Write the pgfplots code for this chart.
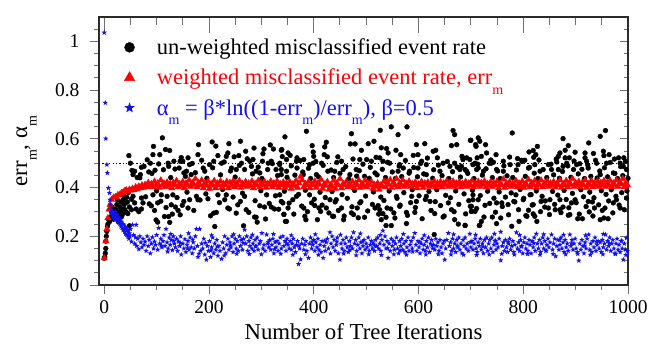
\documentclass[border=0pt]{standalone}
\usepackage{fontspec}
\setmainfont{Liberation Serif}
\usepackage{xcolor}
\usepackage{pgfplots}
\pgfplotsset{compat=1.18}
\usetikzlibrary{plotmarks}
\definecolor{spine}{HTML}{2B2B2B}
\definecolor{tickc}{HTML}{707070}
\definecolor{bl}{HTML}{1010F0}
\pgfdeclareplotmark{fstar}{%
  \pgfpathmoveto{\pgfpointpolar{90}{\pgfplotmarksize}}%
  \pgfpathlineto{\pgfpointpolar{126}{0.42\pgfplotmarksize}}%
  \pgfpathlineto{\pgfpointpolar{162}{\pgfplotmarksize}}%
  \pgfpathlineto{\pgfpointpolar{198}{0.42\pgfplotmarksize}}%
  \pgfpathlineto{\pgfpointpolar{234}{\pgfplotmarksize}}%
  \pgfpathlineto{\pgfpointpolar{270}{0.42\pgfplotmarksize}}%
  \pgfpathlineto{\pgfpointpolar{306}{\pgfplotmarksize}}%
  \pgfpathlineto{\pgfpointpolar{342}{0.42\pgfplotmarksize}}%
  \pgfpathlineto{\pgfpointpolar{18}{\pgfplotmarksize}}%
  \pgfpathlineto{\pgfpointpolar{54}{0.42\pgfplotmarksize}}%
  \pgfpathclose\pgfusepathqfill}
\newcommand{\sbm}{\raisebox{-0.42em}{\fontsize{14}{14}\selectfont m}}
\pgfplotsset{base/.style={
    scale only axis, width=529pt, height=268pt,
    at={(0pt,0pt)}, anchor=south west,
    xmin=-10, xmax=1000, ymin=0, ymax=1.1,
    xtick={0,200,400,600,800,1000},
    minor xtick={50,100,150,250,300,350,450,500,550,650,700,750,850,900,950},
    ytick={0,0.2,0.4,0.6,0.8,1},
    minor ytick={0.05,0.1,0.15,0.25,0.3,0.35,0.45,0.5,0.55,0.65,0.7,0.75,0.85,0.9,0.95,1.05},
    tick style={tickc,line width=0.9pt},
}}
\begin{document}
\begin{tikzpicture}
\path[use as bounding box] (-99pt,-66pt) rectangle (555pt,285pt);
% inward ticks on top
\begin{axis}[base, axis x line*=top, axis y line=none, tick align=inside,
    xticklabels={}, axis line style={draw=none},
    major tick length=16pt, minor tick length=8.5pt]
\end{axis}
% inward ticks on the right
\begin{axis}[base, axis y line*=right, axis x line=none, tick align=inside,
    yticklabels={}, axis line style={draw=none},
    major tick length=8pt, minor tick length=4pt]
\end{axis}
\begin{axis}[base,
    axis line style={spine,line width=1.8pt},
    tick align=outside, tick pos=left,
    major tick length=9pt, minor tick length=4.5pt,
    /pgf/number format/assume math mode=true,
    /pgf/number format/1000 sep={},
    ticklabel style={font=\fontsize{19.5}{20}\selectfont},
    xticklabel style={yshift=-3pt},
    yticklabel style={xshift=-7pt},
    label style={font=\fontsize{22.8}{24}\selectfont},
    xlabel={Number of Tree Iterations},
    ylabel={err\sbm, α\sbm},
    ylabel style={at={(axis description cs:-0.137,0.5)},anchor=center},
    xlabel style={at={(axis description cs:0.5,-0.175)},anchor=center},
    legend style={at={(axis cs:38,1.02)},anchor=north west,draw=none,fill=none,
        font=\fontsize{22.5}{24}\selectfont,row sep=8.9pt,column sep=20pt,inner sep=0pt},
    legend cell align=left,
]
\addplot[forget plot,black,line width=1pt,dash pattern=on 1.2pt off 2.2pt] coordinates {(-10,0.5)(1000,0.5)};
% un-weighted misclassified event rate
\addplot[forget plot,only marks,mark=*,mark size=2.4pt,black] coordinates {
(0,.11)(1,.115)(2,.13)(3,.15)(3,.18)(4,.2)(5,.22)(6,.24)(7,.25)(8,.27)(10,.26)(12,.28)(14,.3)(15,.32)(17,.3)(18,.27)(20,.29)(22,.31)(24,.33)(26,.29)(28,.3)(30,.32)(32,.34)(34,.31)(36,.35)(38,.33)(40,.36)(42,.3)(44,.34)(46,.38)(48,.32)(25,.35)(31,.37)(35,.29)(39,.31)(43,.36)(27,.26)(33,.28)(37,.37)(41,.39)
(47,.531)(50,.5)(53,.47)(58,.467)(55,.453)(71,.483)(69,.453)(68,.44)(85,.464)(88,.5)(93,.535)(94,.569)(97,.471)(106,.535)(111,.604)(117,.556)(125,.552)(122,.5)(123,.487)(133,.508)(143,.48)(145,.508)(150,.508)(152,.46)(157,.467)(160,.522)(163,.494)(166,.453)(180,.576)(179,.535)(189,.48)(192,.467)(201,.494)(206,.587)(213,.57)(209,.508)(217,.531)(224,.5)(233,.528)(238,.58)(236,.542)(243,.48)(248,.526)(252,.474)(257,.531)(260,.59)(262,.5)(268,.474)(270,.549)(278,.508)(281,.487)(286,.562)(284,.515)(290,.467)(297,.46)(302,.508)(305,.558)(303,.539)(317,.575)(323,.558)(319,.508)(313,.5)(339,.556)(345,.608)(335,.494)(348,.515)(328,.474)(338,.453)
(55,.364)(58,.337)(52,.309)(45,.293)(48,.243)(71,.357)(74,.337)(61,.312)(71,.312)(93,.37)(90,.325)(96,.306)(99,.267)(102,.258)(109,.37)(102,.337)(115,.281)(123,.281)(125,.257)(120,.364)(131,.37)(128,.329)(136,.32)(141,.306)(145,.288)(160,.316)(152,.343)(163,.35)(176,.364)(179,.35)(198,.354)(211,.24)(209,.295)(214,.298)(217,.37)(230,.35)(236,.316)(233,.37)(252,.295)(260,.343)(266,.243)(268,.364)(271,.309)(287,.279)(290,.278)(292,.258)(297,.325)(306,.32)(319,.32)(325,.312)(341,.337)(343,.29)(348,.261)(310,.37)(335,.37)
(386,.631)(472,.621)(548,.649)(578,.649)(527,.635)(561,.617)(666,.634)(669,.617)(612,.58)(596,.576)(699,.594)(709,.576)(397,.572)(424,.586)(421,.567)(420,.535)(399,.546)(400,.528)(470,.579)(479,.579)(491,.553)(504,.58)(515,.59)(529,.563)(539,.56)(542,.542)(557,.553)(566,.535)(590,.532)(599,.535)(628,.549)(633,.553)(663,.572)(673,.576)(338,.553)(351,.542)(355,.532)(368,.522)(381,.515)(399,.5)(415,.5)(446,.526)(453,.508)(488,.515)(501,.515)(510,.508)(526,.522)(532,.508)(545,.5)(564,.494)(571,.48)(583,.467)(606,.508)(615,.494)(636,.522)(647,.5)(660,.487)(669,.5)(685,.522)(698,.515)(708,.5)(335,.5)(338,.474)(348,.467)(367,.508)(368,.48)(380,.453)(392,.494)(405,.453)(427,.467)(440,.467)(456,.474)(469,.453)(481,.474)(497,.446)(517,.46)(561,.467)(599,.48)(615,.453)(641,.467)(679,.474)(692,.467)(711,.474)
(346,.261)(343,.29)(351,.316)(338,.343)(360,.35)(367,.364)(381,.316)(383,.282)(385,.268)(396,.337)(402,.326)(410,.316)(413,.302)(392,.37)(424,.316)(431,.35)(436,.282)(438,.282)(453,.316)(457,.268)(443,.35)(472,.296)(476,.289)(497,.278)(488,.337)(483,.316)(517,.316)(523,.326)(526,.309)(532,.293)(538,.278)(540,.316)(529,.268)(538,.244)(548,.244)(558,.364)(564,.323)(555,.275)(577,.298)(577,.252)(587,.364)(593,.298)(596,.343)(615,.364)(622,.343)(631,.293)(647,.279)(630,.207)(657,.337)(663,.309)(669,.268)(676,.25)(689,.245)(701,.302)(699,.323)(716,.244)(704,.37)
(779,.624)(714,.604)(700,.594)(717,.59)(728,.576)(710,.569)(876,.601)(886,.572)(957,.634)(947,.61)(925,.583)(880,.553)(827,.569)(819,.552)(811,.546)(824,.535)(820,.524)(748,.535)(730,.542)(720,.528)(712,.522)(692,.522)(685,.515)(870,.542)(867,.528)(880,.522)(888,.522)(899,.545)(918,.542)(918,.522)(934,.54)(953,.549)(954,.531)(964,.535)(974,.517)(982,.522)(992,.522)(789,.519)(797,.512)(803,.512)(762,.508)(743,.504)(735,.5)(864,.505)(876,.487)(883,.5)(908,.498)(921,.508)(940,.5)(959,.5)(985,.5)(991,.487)(682,.487)(689,.474)(704,.494)(714,.48)(724,.467)(739,.5)(749,.474)(762,.467)(775,.494)(790,.494)(810,.48)(822,.494)(832,.467)(848,.494)(854,.474)(867,.474)(896,.474)(902,.494)(924,.48)(947,.453)(972,.46)(997,.474)
(778,.241)(717,.245)(720,.261)(689,.244)(741,.279)(757,.275)(749,.252)(792,.261)(805,.285)(819,.292)(810,.307)(822,.282)(826,.261)(701,.323)(701,.302)(708,.302)(727,.327)(714,.35)(704,.35)(749,.337)(759,.337)(771,.33)(782,.343)(786,.37)(800,.35)(819,.33)(834,.343)(841,.32)(848,.316)(861,.309)(870,.309)(876,.32)(886,.286)(889,.289)(899,.35)(892,.337)(904,.272)(913,.272)(924,.343)(932,.341)(926,.3)(936,.316)(947,.268)(954,.275)(962,.272)(956,.316)(972,.337)(978,.35)(985,.316)(997,.357)(870,.35)(851,.35)(813,.37)
(52,.352)(63,.441)(66,.301)(76,.487)(79,.362)(82,.514)(86,.333)(91,.458)(100,.386)(104,.497)(108,.344)(113,.473)(118,.318)(127,.441)(130,.291)(135,.476)(139,.359)(147,.523)(149,.327)(155,.446)(158,.381)(168,.499)(171,.306)(174,.461)(183,.349)(186,.512)(194,.374)(196,.438)(203,.284)(207,.481)(220,.338)(222,.452)(226,.392)(229,.505)(239,.312)(241,.468)(246,.361)(250,.443)(255,.329)(258,.491)(264,.377)(273,.518)(276,.298)(283,.456)(288,.346)(294,.484)(299,.387)(301,.437)(308,.271)(312,.474)(315,.335)(321,.498)(327,.366)(331,.449)(333,.311)(340,.527)(344,.385)(349,.442)
(353,.336)(357,.489)(362,.291)(364,.451)(371,.372)(374,.511)(377,.324)(379,.464)(384,.389)(388,.301)(390,.479)(394,.437)(401,.352)(404,.507)(407,.268)(409,.444)(412,.381)(416,.328)(418,.491)(422,.359)(426,.526)(429,.296)(433,.472)(435,.384)(438,.441)(441,.341)(444,.503)(447,.306)(450,.458)(454,.371)(458,.283)(461,.486)(464,.356)(467,.436)(473,.321)(475,.517)(478,.388)(482,.447)(485,.276)(487,.469)(490,.342)(494,.496)(499,.365)(503,.304)(506,.438)(508,.483)(512,.331)(514,.382)(519,.524)(521,.452)(524,.291)(528,.361)(531,.475)(534,.347)(537,.441)(541,.504)(544,.386)(547,.312)(550,.464)(553,.296)(556,.437)(559,.356)(563,.488)(565,.328)(568,.445)(572,.379)(575,.511)(579,.286)(582,.459)(585,.338)(588,.391)(591,.482)(594,.318)(598,.444)(601,.366)(604,.499)(607,.272)(610,.456)(613,.351)(617,.521)(620,.384)(624,.306)(627,.438)(629,.473)(632,.342)(635,.391)(638,.492)(642,.326)(645,.449)(649,.283)(652,.368)(655,.507)(658,.437)(661,.358)(665,.465)(668,.301)(671,.386)(674,.484)(677,.331)(680,.443)(683,.528)(687,.374)(690,.292)
(694,.458)(696,.346)(703,.389)(706,.437)(711,.314)(713,.496)(718,.367)(722,.451)(725,.279)(729,.477)(732,.385)(736,.335)(738,.513)(741,.441)(744,.356)(747,.299)(751,.468)(754,.382)(756,.437)(760,.322)(763,.489)(766,.361)(769,.448)(772,.288)(774,.525)(777,.378)(780,.441)(784,.341)(787,.472)(791,.309)(794,.392)(798,.507)(801,.356)(804,.446)(807,.282)(812,.483)(815,.371)(817,.328)(821,.459)(825,.386)(828,.437)(830,.513)(833,.301)(836,.364)(838,.474)(842,.345)(845,.441)(850,.289)(853,.496)(856,.384)(858,.452)(860,.331)(863,.517)(866,.369)(869,.438)(872,.297)(875,.466)(878,.388)(882,.351)(885,.489)(887,.317)(891,.442)(894,.376)(897,.509)(901,.338)(905,.456)(907,.291)(910,.391)(912,.475)(915,.362)(917,.437)(920,.322)(923,.493)(927,.381)(929,.446)(933,.283)(935,.358)(938,.512)(941,.439)(944,.329)(946,.468)(949,.387)(951,.306)(955,.481)(958,.372)(961,.444)(963,.345)(966,.503)(968,.391)(971,.296)(975,.458)(977,.364)(980,.437)(983,.328)(986,.486)(988,.379)(990,.449)(993,.309)(995,.508)(998,.386)(1000,.438)
};
% weighted misclassified event rate
\addplot[forget plot,only marks,mark=triangle*,mark size=3.6pt,red] coordinates {
(0,.11)(3,.18)(5,.23)(7,.275)(9,.31)(11,.33)(14,.35)(18,.36)(22,.362)(26,.37)(30,.372)(33,.378)(36,.38)(39,.385)(42,.39)(45,.383)(48,.392)(51,.388)(54,.396)(57,.39)(60,.402)(63,.394)(66,.405)(69,.398)(72,.41)(75,.4)(78,.412)(81,.403)(84,.42)(87,.405)(90,.415)(93,.402)(96,.425)(99,.408)(102,.418)(105,.4)(108,.43)(111,.41)(114,.418)(117,.403)(120,.422)(123,.408)(126,.416)(129,.398)(132,.42)(135,.41)(138,.428)(141,.402)(144,.416)(147,.408)(150,.424)(153,.398)(156,.418)(159,.41)(162,.43)(165,.404)(168,.42)(171,.412)(174,.436)(177,.402)(180,.42)(183,.41)(186,.43)(189,.398)(192,.418)(195,.408)(198,.426)(201,.396)(204,.416)(207,.408)(210,.428)(213,.398)(216,.418)(219,.41)(222,.426)(225,.4)(228,.416)(231,.41)(234,.424)(237,.398)(240,.42)(243,.408)(246,.426)(249,.402)(252,.418)(255,.41)(258,.428)(261,.4)(264,.416)(267,.41)(270,.424)(273,.404)(276,.418)(279,.408)(282,.426)(285,.398)(288,.416)(291,.41)(294,.428)(297,.402)(300,.418)(303,.41)(306,.424)(309,.4)(312,.416)(315,.412)(318,.426)(321,.402)(324,.418)(327,.41)(330,.426)(333,.4)(336,.416)(339,.41)(342,.422)(345,.4)(348,.418)(351,.408)(354,.424)(357,.396)(360,.414)(363,.408)(366,.428)(369,.4)(372,.418)(375,.445)(378,.43)(381,.402)(384,.416)(387,.41)(390,.424)(393,.398)(396,.414)(399,.41)(402,.426)(405,.4)(408,.418)(411,.412)(414,.432)(417,.396)(420,.414)(423,.408)(426,.424)(429,.392)(432,.41)(435,.404)(438,.428)(441,.396)(444,.418)(447,.41)(450,.436)(453,.398)(456,.416)(459,.41)(462,.424)(465,.402)(468,.414)(471,.408)(474,.424)(477,.398)(480,.418)(483,.41)(486,.43)(489,.4)(492,.416)(495,.408)(498,.428)(501,.402)(504,.418)(507,.41)(510,.424)(513,.396)(516,.412)(519,.404)(522,.418)(525,.392)(528,.41)(531,.405)(534,.426)(537,.402)(540,.422)(543,.412)(546,.432)(549,.4)(552,.42)(555,.41)(558,.436)(561,.402)(564,.42)(567,.41)(570,.43)(573,.404)(576,.418)(579,.41)(582,.426)(585,.404)(588,.416)(591,.41)(594,.422)(597,.398)(600,.414)(603,.41)(606,.424)(609,.4)(612,.418)(615,.412)(618,.422)(621,.404)(624,.416)(627,.41)(630,.426)(633,.402)(636,.418)(639,.41)(642,.424)(645,.402)(648,.418)(651,.412)(654,.428)(657,.404)(660,.42)(663,.41)(666,.426)(669,.404)(672,.418)(675,.412)(678,.424)(681,.402)(684,.416)(687,.41)(690,.424)(693,.404)(696,.418)(699,.41)(702,.428)(705,.402)(708,.416)(711,.41)(714,.424)(717,.404)(720,.42)(723,.412)(726,.426)(729,.402)(732,.416)(735,.41)(738,.424)(741,.404)(744,.418)(747,.41)(750,.426)(753,.398)(756,.414)(759,.41)(762,.434)(765,.4)(768,.418)(771,.41)(774,.424)(777,.404)(780,.416)(783,.41)(786,.428)(789,.402)(792,.418)(795,.41)(798,.426)(801,.4)(804,.416)(807,.41)(810,.432)(813,.402)(816,.42)(819,.41)(822,.428)(825,.4)(828,.416)(831,.41)(834,.43)(837,.402)(840,.418)(843,.41)(846,.426)(849,.404)(852,.418)(855,.41)(858,.424)(861,.402)(864,.416)(867,.41)(870,.43)(873,.4)(876,.416)(879,.41)(882,.428)(885,.402)(888,.42)(891,.412)(894,.436)(897,.404)(900,.42)(903,.41)(906,.424)(909,.402)(912,.418)(915,.41)(918,.43)(921,.4)(924,.416)(927,.41)(930,.428)(933,.402)(936,.418)(939,.41)(942,.426)(945,.404)(948,.42)(951,.412)(954,.428)(957,.404)(960,.42)(963,.41)(966,.428)(969,.402)(972,.418)(975,.41)(978,.43)(981,.404)(984,.42)(987,.414)(990,.436)(993,.402)(996,.42)(999,.41)
};
% alpha_m
\addplot[forget plot,only marks,mark=fstar,mark size=2.8pt,bl] coordinates {
(0,1.036)(2,.748)(3,.601)(5,.494)(6,.46)(8,.398)(10,.378)(11,.35)(12,.33)(13,.31)(14,.3)(15,.29)(16,.3)(17,.28)(18,.295)(19,.27)(20,.285)(21,.3)(22,.275)(23,.29)(24,.27)(25,.285)(26,.26)(27,.28)(28,.255)(29,.27)(30,.25)(31,.265)(32,.24)(33,.26)(34,.235)(35,.25)(36,.225)(37,.248)(38,.23)(39,.218)(40,.24)(41,.21)(42,.232)(43,.205)(44,.225)(45,.2)(46,.22)(47,.19)(48,.212)(49,.2)
(50,.23)(52,.178)(54,.247)(56,.205)(58,.17)(60,.195)(61,.247)(62,.16)(64,.19)(66,.147)(68,.2)(70,.175)(72,.155)(74,.19)(76,.165)(78,.178)(80,.14)(82,.2)(84,.16)(86,.185)(88,.13)(90,.17)(92,.196)(94,.15)(96,.178)(98,.165)(100,.205)(102,.145)(104,.234)(106,.17)(108,.19)(110,.155)(112,.18)(114,.205)(116,.16)(118,.23)(120,.175)(122,.15)(124,.195)(126,.165)(128,.185)(130,.143)(132,.2)(134,.17)(136,.155)(138,.19)(140,.14)(142,.178)(144,.16)(146,.2)(147,.125)(150,.17)(152,.15)(154,.188)(156,.135)(158,.165)(160,.18)(162,.145)(164,.195)(166,.155)(168,.13)(170,.175)(172,.15)(174,.2)(176,.23)(178,.16)(179,.115)(182,.23)(184,.14)(186,.17)(188,.15)(190,.19)(192,.125)(195,.104)(197,.16)(199,.14)(201,.18)(203,.115)(205,.155)(207,.195)(209,.13)(211,.17)(213,.145)(215,.185)(217,.12)(219,.16)(221,.14)(224,.107)(226,.175)(228,.15)(230,.2)(232,.13)(234,.165)(236,.19)(238,.145)(240,.175)(242,.155)(244,.2)(246,.135)(248,.17)(250,.19)(252,.15)(254,.18)(256,.14)(258,.2)(260,.16)(262,.185)(264,.145)(266,.19)(268,.227)(270,.17)(272,.2)(274,.14)(276,.18)(278,.16)(280,.195)(282,.15)(284,.17)(286,.14)(288,.185)(290,.16)(292,.195)(294,.145)(296,.17)(298,.18)(301,.213)(303,.15)(305,.165)(307,.14)(310,.207)(312,.17)(314,.155)(316,.185)(318,.145)(320,.165)(322,.19)(324,.13)(326,.175)(328,.155)(330,.18)(332,.14)(334,.17)(336,.195)(338,.15)(341,.2)(343,.16)(345,.18)(347,.14)(349,.19)(351,.165)(353,.15)(355,.18)(357,.145)(359,.17)(361,.19)(363,.155)(365,.135)(367,.165)(369,.18)(371,.086)(373,.15)(375,.105)(377,.17)(379,.19)(381,.145)(383,.165)(385,.18)(387,.14)(390,.111)(392,.17)(394,.195)(396,.15)(398,.165)(400,.185)(402,.14)(404,.175)(406,.155)(408,.19)(410,.145)(412,.165)(414,.135)(416,.18)(418,.111)(420,.16)(422,.14)(424,.175)(426,.19)(428,.15)(431,.216)(433,.17)(435,.2)(437,.155)(439,.185)(441,.14)(443,.165)(445,.195)(447,.13)(450,.104)(452,.17)(454,.15)(456,.185)(458,.14)(460,.17)(462,.195)(464,.155)(466,.135)(468,.18)(470,.16)(472,.195)(474,.15)(476,.216)(478,.17)(480,.185)(482,.14)(484,.165)(486,.195)(488,.15)(490,.175)(492,.13)(494,.16)(496,.185)(498,.145)(500,.17)(502,.155)(504,.195)(506,.14)(508,.165)(510,.18)(512,.15)(514,.17)(516,.14)(518,.185)(520,.16)(522,.195)(524,.15)(526,.17)(528,.14)(530,.185)(532,.223)(534,.165)(536,.2)(538,.15)(540,.18)(542,.111)(544,.17)(546,.14)(548,.19)(550,.16)(552,.18)(554,.145)(556,.17)(558,.195)(560,.15)(562,.13)(564,.18)(566,.16)(568,.19)(570,.145)(572,.17)(574,.135)(576,.18)(578,.155)(580,.195)(582,.14)(584,.165)(586,.18)(588,.15)(590,.195)(593,.213)(595,.165)(597,.14)(599,.18)(601,.155)(603,.13)(605,.17)(607,.19)(609,.145)(611,.165)(613,.14)(615,.18)(617,.155)(619,.195)(621,.135)(623,.17)(625,.185)(627,.15)(629,.165)(631,.145)(633,.19)(635,.16)(637,.175)(639,.14)(641,.185)(643,.155)(645,.13)(647,.17)(650,.104)(652,.15)(654,.185)(657,.213)(659,.16)(661,.175)(663,.14)(665,.19)(667,.15)(669,.17)(671,.135)(673,.185)(675,.155)(677,.195)(679,.145)(681,.17)(683,.13)(685,.185)(687,.16)(689,.195)(691,.15)(693,.17)(695,.14)(698,.21)(700,.155)(702,.18)(704,.145)(706,.17)(708,.19)(710,.15)(712,.135)(714,.175)(716,.16)(718,.19)(720,.145)(722,.17)(724,.13)(726,.185)(728,.155)(730,.195)(732,.14)(734,.17)(736,.185)(738,.15)(740,.195)(742,.135)(744,.165)(746,.18)(748,.145)(750,.17)(752,.155)(754,.19)(757,.101)(757,.218)(760,.16)(762,.175)(764,.14)(766,.185)(768,.155)(770,.135)(772,.17)(774,.19)(776,.145)(778,.16)(780,.18)(782,.135)(784,.165)(787,.216)(789,.15)(791,.175)(793,.14)(795,.185)(797,.16)(799,.13)(801,.175)(803,.195)(805,.15)(807,.17)(809,.14)(811,.185)(813,.165)(815,.13)(817,.18)(819,.155)(821,.195)(823,.14)(825,.21)(827,.17)(829,.15)(831,.185)(833,.135)(835,.17)(837,.195)(839,.15)(841,.18)(843,.14)(845,.165)(847,.19)(849,.155)(851,.175)(854,.207)(856,.145)(858,.17)(860,.19)(862,.118)(864,.16)(866,.185)(868,.145)(870,.165)(872,.195)(874,.15)(876,.175)(878,.135)(880,.185)(882,.155)(884,.17)(886,.14)(889,.207)(891,.16)(893,.185)(895,.145)(897,.17)(899,.19)(901,.15)(903,.135)(906,.1)(908,.17)(910,.145)(912,.185)(914,.16)(916,.13)(918,.175)(920,.15)(922,.19)(925,.207)(927,.145)(929,.17)(931,.135)(933,.18)(935,.155)(937,.195)(939,.14)(941,.165)(943,.18)(945,.15)(947,.175)(949,.135)(951,.185)(953,.155)(955,.17)(957,.207)(959,.145)(961,.18)(963,.16)(965,.195)(967,.14)(969,.17)(971,.185)(973,.15)(975,.13)(977,.17)(979,.19)(981,.145)(983,.165)(985,.135)(987,.18)(989,.15)(991,.104)(993,.17)(995,.145)(997,.193)(999,.14)
(109,.162)(121,.137)(133,.181)(145,.172)(159,.151)(169,.186)(181,.128)(193,.173)(204,.142)(216,.158)(229,.121)(241,.163)(253,.128)(265,.172)(277,.127)(289,.158)(300,.126)(313,.177)(325,.147)(337,.128)(348,.171)(360,.124)(372,.162)(384,.126)(397,.178)(409,.124)(421,.182)(432,.129)(444,.178)(457,.129)(469,.144)(481,.122)(493,.178)(505,.126)(517,.161)(529,.123)(541,.151)(553,.126)(565,.142)(577,.124)(589,.137)(602,.176)(614,.125)(626,.162)(638,.126)(649,.181)(662,.125)(674,.162)(686,.124)(699,.176)(711,.123)(723,.158)(735,.125)(747,.182)(759,.128)(771,.177)(783,.125)(796,.157)(808,.127)(820,.172)(832,.124)(844,.141)(857,.127)(869,.184)(881,.126)(892,.171)(904,.128)(917,.161)(928,.124)(940,.177)(952,.126)(964,.171)(976,.127)(988,.182)(996,.123)
(127,.209)(161,.212)(205,.204)(247,.208)(283,.206)(323,.209)(357,.204)(403,.208)(451,.206)(489,.211)(527,.205)(571,.209)(611,.204)(667,.208)(709,.206)(745,.21)(793,.205)(839,.208)(877,.206)(919,.204)(953,.209)
};
\addlegendimage{only marks,mark=*,mark size=5pt,black}
\addlegendentry{un-weighted misclassified event rate}
\addlegendimage{only marks,mark=triangle*,mark size=6pt,red}
\addlegendentry{\textcolor{red}{weighted misclassified event rate, err\sbm}}
\addlegendimage{only marks,mark=fstar,mark size=5.5pt,bl}
\addlegendentry{\textcolor{bl}{α\sbm\ = β*ln((1-err\sbm)/err\sbm), β=0.5}}
\end{axis}
\end{tikzpicture}
\end{document}
